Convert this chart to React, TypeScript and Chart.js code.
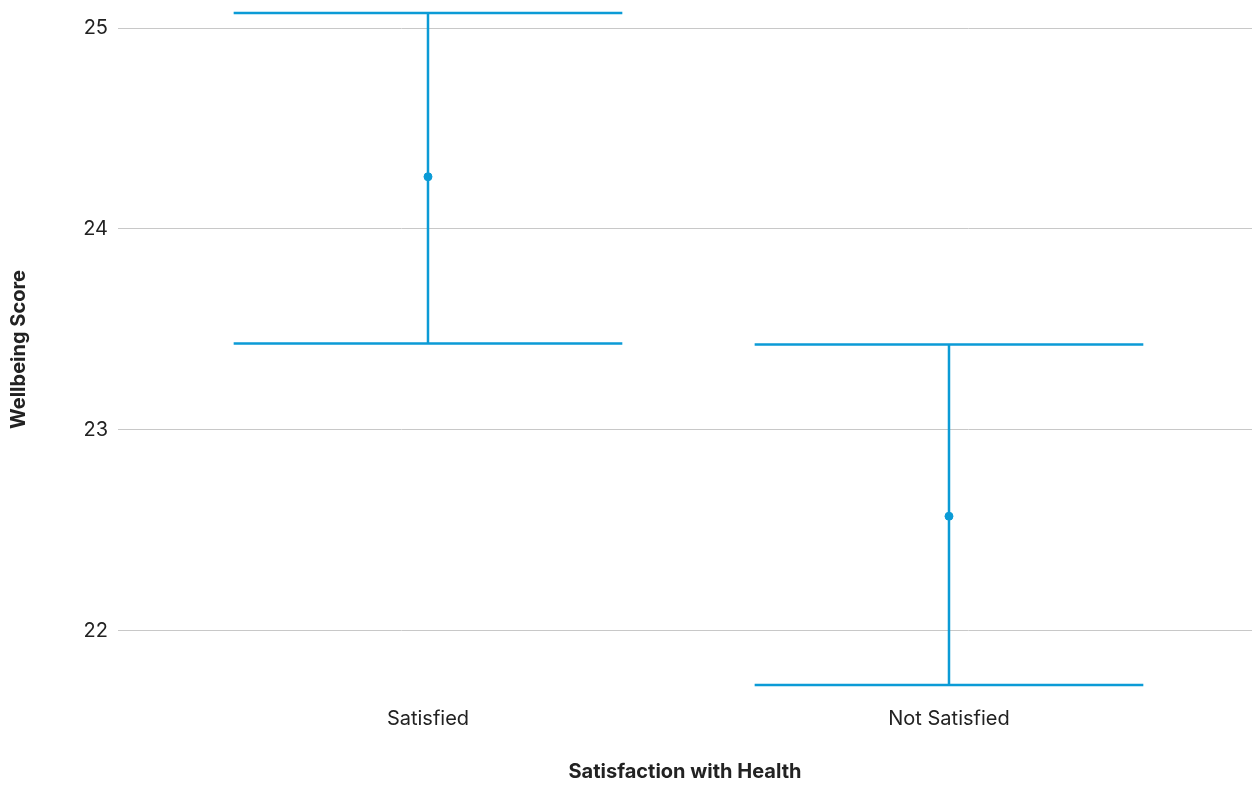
import React, { useEffect, useRef } from "react";
import { Chart, registerables } from "chart.js";

Chart.register(...registerables);

const categories = ["Satisfied", "Not Satisfied"];
const means = [24.26, 22.57];
const lowerBounds = [23.43, 21.73];
const upperBounds = [25.075, 23.425];
const yTicks = [22, 23, 24, 25];

const BLUE = "#0b9bd6";
const FONT = "Inter";

const errorBarPlugin = {
  id: "errorBars",
  afterDatasetsDraw(chart: any) {
    const { ctx, scales } = chart;
    const xs = scales.x;
    const ys = scales.y;
    ctx.save();
    ctx.strokeStyle = BLUE;
    ctx.lineWidth = 2.5;
    categories.forEach((_, i) => {
      const cx = xs.getPixelForValue(i);
      const half = xs.getPixelForValue(i + 0.373) - cx;
      const yl = ys.getPixelForValue(lowerBounds[i]);
      const yu = ys.getPixelForValue(upperBounds[i]);
      ctx.beginPath();
      ctx.moveTo(cx, yl);
      ctx.lineTo(cx, yu);
      ctx.moveTo(cx - half, yl);
      ctx.lineTo(cx + half, yl);
      ctx.moveTo(cx - half, yu);
      ctx.lineTo(cx + half, yu);
      ctx.stroke();
    });
    ctx.restore();
  },
};

export default function App() {
  const ref = useRef<HTMLCanvasElement | null>(null);
  useEffect(() => {
    if (!ref.current) return;
    const chart = new Chart(ref.current, {
      type: "scatter",
      data: {
        datasets: [
          {
            data: means.map((m, i) => ({ x: i, y: m })),
            backgroundColor: BLUE,
            borderColor: BLUE,
            pointRadius: 4,
            pointHoverRadius: 4,
            clip: false,
          },
        ],
      },
      plugins: [errorBarPlugin],
      options: {
        responsive: false,
        animation: false,
        devicePixelRatio: 1,
        layout: { autoPadding: false, padding: { top: 12, left: 0, right: 0, bottom: 0 } },
        plugins: { legend: { display: false }, tooltip: { enabled: false } },
        scales: {
          x: {
            type: "linear",
            min: -0.595,
            max: 1.5816,
            afterBuildTicks: (s: any) => {
              s.ticks = categories.map((_, i) => ({ value: i }));
            },
            afterFit: (s: any) => {
              s.height = 100;
              s.paddingLeft = 0;
              s.paddingRight = 0;
            },
            grid: { display: false },
            border: { display: false },
            ticks: {
              callback: (v: any) => categories[v] ?? "",
              color: "#222",
              font: { family: FONT, size: 20 },
              padding: 12,
              maxRotation: 0,
            },
            title: {
              display: true,
              text: "Satisfaction with Health",
              color: "#222",
              font: { family: FONT, size: 20, weight: "bold" },
              padding: { top: 0, bottom: 3 },
            },
          },
          y: {
            type: "linear",
            min: 21.72,
            max: 25.08,
            afterBuildTicks: (s: any) => {
              s.ticks = yTicks.map((v) => ({ value: v }));
            },
            afterFit: (s: any) => {
              s.width = 118;
              s.paddingTop = 0;
              s.paddingBottom = 0;
            },
            grid: { color: "#c8c8c8", lineWidth: 1, drawTicks: false },
            border: { display: false },
            ticks: {
              color: "#222",
              font: { family: FONT, size: 20 },
              padding: 10,
            },
            title: {
              display: true,
              text: "Wellbeing Score",
              color: "#222",
              font: { family: FONT, size: 20, weight: "bold" },
              padding: { top: 7, bottom: 0 },
            },
          },
        },
      },
    });
    return () => chart.destroy();
  }, []);
  return (
    <div style={{ position: "absolute", left: 0, top: 0, width: 1252, height: 787 }}>
      <canvas ref={ref} width={1252} height={787} style={{ display: "block" }} />
    </div>
  );
}
